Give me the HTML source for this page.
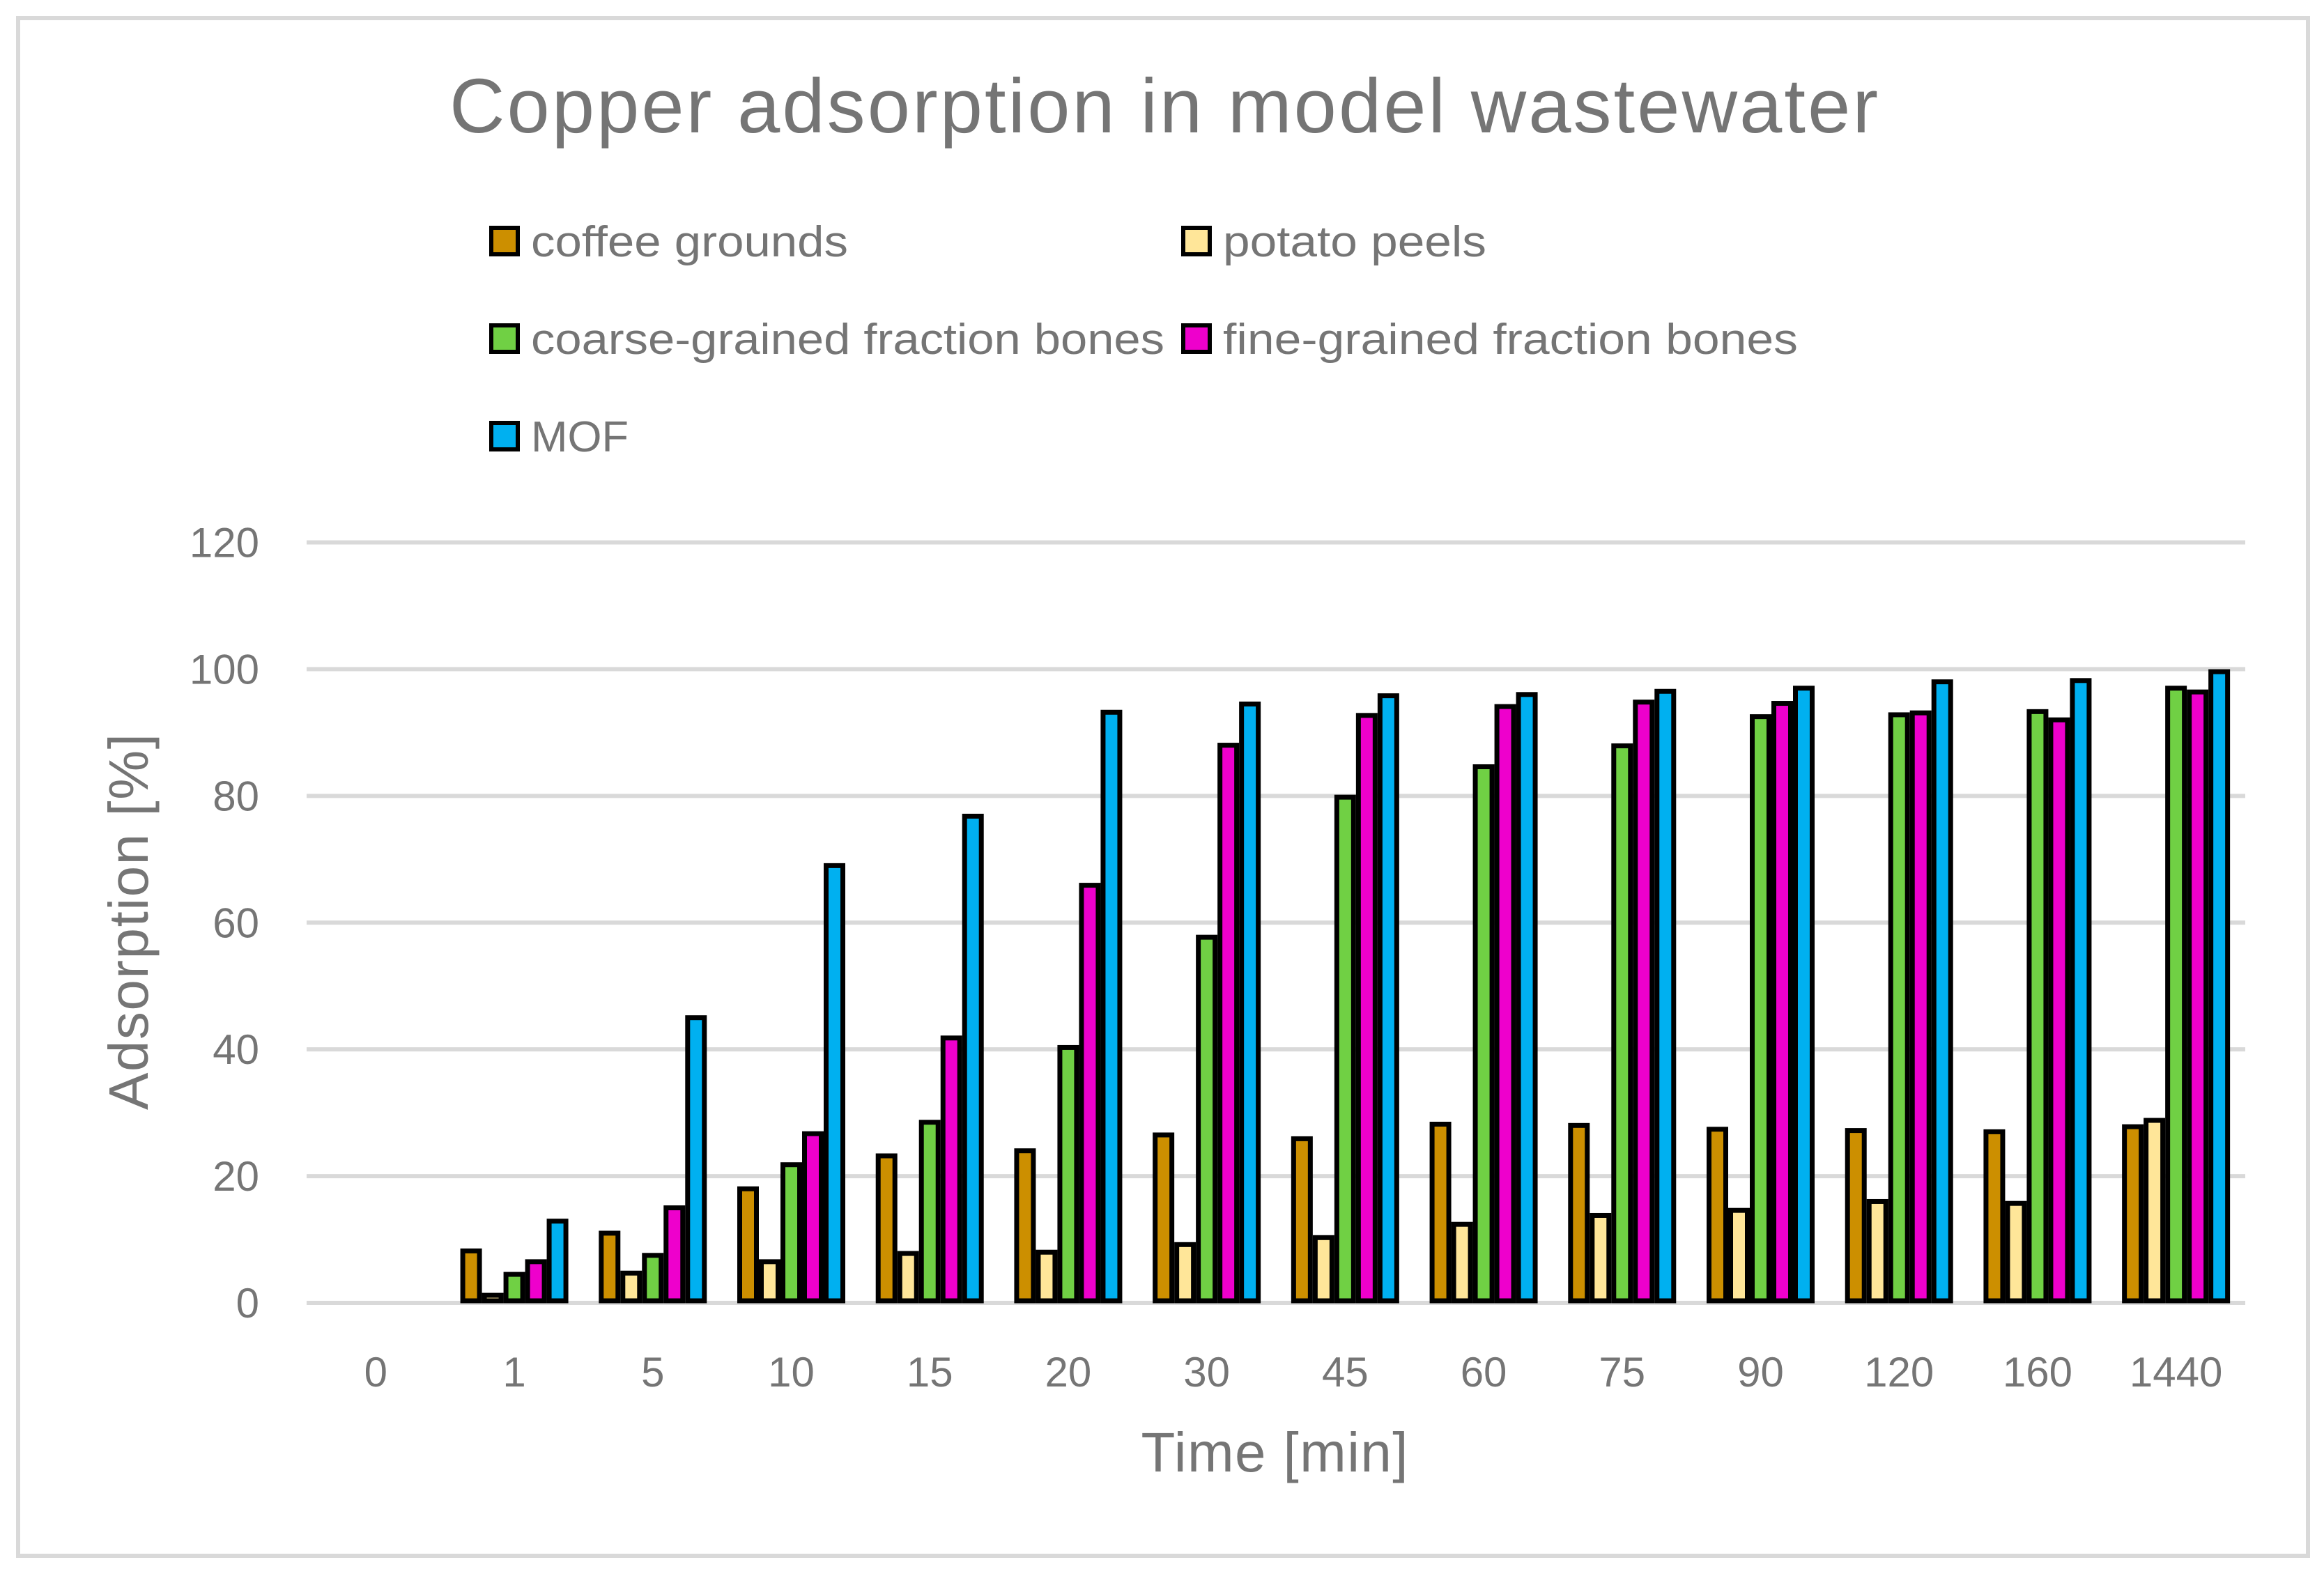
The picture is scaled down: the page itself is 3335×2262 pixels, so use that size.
<!DOCTYPE html>
<html><head><meta charset="utf-8"><style>
html,body{margin:0;padding:0;background:#fff;}
svg{display:block;}
text{font-family:"Liberation Sans",sans-serif;}
</style></head><body>
<svg id="chart" width="3335" height="2262" viewBox="0 0 3335 2262" xmlns="http://www.w3.org/2000/svg">
<rect x="26" y="26" width="3286" height="2207" fill="#fff" stroke="#d9d9d9" stroke-width="6"/>
<text x="1670" y="190" text-anchor="middle" font-size="110" fill="#757575" textLength="2050">Copper adsorption in model wastewater</text>
<g id="legend"></g>
<g id="grid"></g>
<g id="bars"></g>
<g id="yticks"></g>
<g id="xticks"></g>
<text transform="translate(212,1323) rotate(-90)" text-anchor="middle" font-size="80" fill="#757575" textLength="540">Adsorption [%]</text>
<text x="1829" y="2112" text-anchor="middle" font-size="80" fill="#757575" textLength="383">Time [min]</text>
</svg>
<script>
const categories = ["0","1","5","10","15","20","30","45","60","75","90","120","160","1440"];
const coffee = [0,8.2,11,18,23.2,24,26.5,25.9,28.2,28,27.4,27.2,27,27.8];
const potato = [0,1.2,4.7,6.5,7.8,8,9.2,10.3,12.4,13.8,14.6,16,15.7,28.8];
const coarse = [0,4.5,7.5,21.8,28.5,40.3,57.7,79.8,84.6,87.9,92.5,92.8,93.3,97];
const fine = [0,6.5,15,26.7,41.8,65.9,88,92.7,94.1,94.8,94.6,93.1,92,96.4];
const mof = [0,12.9,45,69,76.8,93.2,94.5,95.8,96,96.5,97,98,98.2,99.6];
const yTicks = [0,20,40,60,80,100,120];
const seriesNames = ["coffee grounds","potato peels","coarse-grained fraction bones","fine-grained fraction bones","MOF"];

const NS = "http://www.w3.org/2000/svg";
const colors = ["#CC8F00","#FFE699","#70D044","#EE00CC","#00B0F0"];
const series = [coffee, potato, coarse, fine, mof];
const plotL = 440, plotR = 3222, y0 = 1870, yTop = 778.5, yMax = 120;
const catW = (plotR - plotL) / categories.length;
const barW = 31;
function yScale(v){ return y0 - (v / yMax) * (y0 - yTop); }
function xCenter(i){ return plotL + (i + 0.5) * catW; }
function mk(tag, attrs, parent){ const e = document.createElementNS(NS, tag); for (const k in attrs) e.setAttribute(k, attrs[k]); parent.appendChild(e); return e; }

const grid = document.getElementById('grid');
const yt = document.getElementById('yticks');
yTicks.forEach(t => {
  const l = mk('line', {x1: plotL, x2: plotR, y1: yScale(t), y2: yScale(t), stroke: '#d9d9d9', 'stroke-width': 6}, grid);
  
  
  const tx = mk('text', {x: 372, y: yScale(t) + 21, 'text-anchor': 'end', 'font-size': 60, fill: '#757575'}, yt);
  tx.textContent = t;
  
  
});

const bars = document.getElementById('bars');
const xt = document.getElementById('xticks');
categories.forEach((c, i) => {
  const start = xCenter(i) - barW * series.length / 2;
  series.forEach((s, j) => {
    const v = s[i];
    if (v > 0) {
      const r = mk('rect', {x: start + j * barW + 3.5, y: yScale(v), width: barW - 7, height: y0 - yScale(v) - 3, fill: colors[j], stroke: '#000', 'stroke-width': 7}, bars);
      
      
    }
  });
  const tx = mk('text', {x: xCenter(i), y: 1990, 'text-anchor': 'middle', 'font-size': 60, fill: '#757575'}, xt);
  tx.textContent = c;
  
  
});

const lg = document.getElementById('legend');
const legPos = [[702,347],[1695,347],[702,487],[1695,487],[702,627]];
const legLen = [455, 378, 909, 825, 140];
seriesNames.forEach((n, j) => {
  const [lx, ly] = legPos[j];
  const g = mk('g', {}, lg);
  
  
  mk('rect', {x: lx + 3, y: ly - 20, width: 38, height: 38, fill: colors[j], stroke: '#000', 'stroke-width': 6}, g);
  const t = mk('text', {x: lx + 60, y: ly + 21, 'font-size': 62, fill: '#757575', textLength: legLen[j], lengthAdjust: 'spacingAndGlyphs'}, g);
  t.textContent = n;
});
</script>
</body></html>
